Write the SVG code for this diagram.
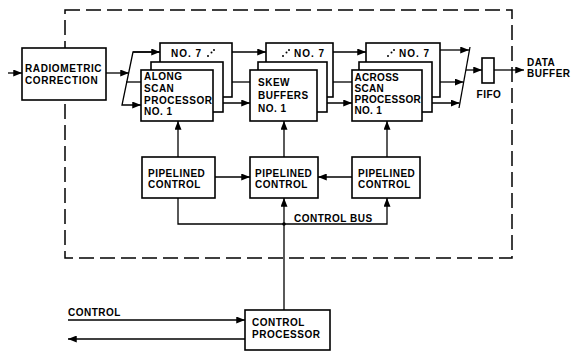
<svg xmlns="http://www.w3.org/2000/svg" width="573" height="352" viewBox="0 0 573 352">
<defs>
<marker id="ah" viewBox="0 0 10 8" refX="10" refY="4" markerWidth="9" markerHeight="7" orient="auto" markerUnits="userSpaceOnUse"><path d="M0,0 L10,4 L0,8 z" fill="#000"/></marker>
<style>
rect{fill:#fff;stroke:#000;stroke-width:1.6}
.ln{fill:none;stroke:#000;stroke-width:1.3}
.dash{fill:none;stroke:#000;stroke-width:1.5;stroke-dasharray:15 6}
text{font-family:"Liberation Sans",Arial,sans-serif;font-weight:bold;font-size:10px;letter-spacing:0.5px;fill:#000}
.n7{letter-spacing:1px}
.dot{fill:#000}
</style>
</defs>
<rect class="dash" x="65" y="10" width="447" height="248" style="fill:none"/>
<g id="connectors">
<path class="ln" d="M8,73 L22,73" marker-end="url(#ah)"/>
<path class="ln" d="M106,73 L129,73" marker-end="url(#ah)"/>
<path class="ln" d="M160,52 L133,52 L122,105 L141,105" marker-end="url(#ah)"/>
<path class="ln" d="M133,52 L160,52" marker-end="url(#ah)"/>
<path class="ln" d="M126,82 L141,82"/>
<path class="ln" d="M232,52 L266,52" marker-end="url(#ah)"/>
<path class="ln" d="M223,82 L250,82"/>
<path class="ln" d="M213,103 L250,103" marker-end="url(#ah)"/>
<path class="ln" d="M333,52 L366,52" marker-end="url(#ah)"/>
<path class="ln" d="M327,82 L352,82"/>
<path class="ln" d="M317,103 L352,103" marker-end="url(#ah)"/>
<path class="ln" d="M440,50 L469,50" marker-end="url(#ah)"/>
<path class="ln" d="M432,82 L463.5,82" marker-end="url(#ah)"/>
<path class="ln" d="M422,103 L459.5,103" marker-end="url(#ah)"/>
<path class="ln" d="M470,47 L459,108"/>
<path class="ln" d="M466,70 L482,70" marker-end="url(#ah)"/>
<path class="ln" d="M494,70 L524,70" marker-end="url(#ah)"/>
<path class="ln" d="M178,157 L178,121" marker-end="url(#ah)"/>
<path class="ln" d="M284,157 L284,121" marker-end="url(#ah)"/>
<path class="ln" d="M387,157 L387,121" marker-end="url(#ah)"/>
<path class="ln" d="M215,177 L250,177" marker-end="url(#ah)"/>
<path class="ln" d="M352,177 L318,177" marker-end="url(#ah)"/>
<path class="ln" d="M178,198 L178,224 L387,224 L387,198" marker-end="url(#ah)"/>
<path class="ln" d="M284,310 L284,198" marker-end="url(#ah)"/>
<circle class="dot" cx="284" cy="224" r="1.8"/>
<path class="ln" d="M68,320 L245,320" marker-end="url(#ah)"/>
<path class="ln" d="M245,339 L68,339" marker-end="url(#ah)"/>
<text x="294" y="222">CONTROL BUS</text>
<text x="68" y="316">CONTROL</text>
<text x="527" y="66">DATA</text>
<text x="527" y="77">BUFFER</text>
</g>
<g id="radiometric">
<rect x="22" y="48" width="84" height="52"/>
<text x="25" y="72" style="letter-spacing:0.6px">RADIOMETRIC</text>
<text x="25" y="84" style="letter-spacing:0.6px">CORRECTION</text>
</g>
<g id="along-scan">
<rect x="160" y="43" width="72" height="54"/>
<text class="n7" x="171" y="57">NO. 7</text>
<circle class="dot" cx="208" cy="56" r="1"/><circle class="dot" cx="211.5" cy="52.5" r="1"/><circle class="dot" cx="214" cy="50" r="1"/>
<rect x="151" y="62" width="72" height="50"/>
<rect x="141" y="70" width="72" height="51"/>
<text x="144" y="80">ALONG</text>
<text x="144" y="92">SCAN</text>
<text x="144" y="103.5">PROCESSOR</text>
<text x="144" y="115">NO. 1</text>
</g>
<g id="skew-buffers">
<rect x="266" y="43" width="67" height="54"/>
<circle class="dot" cx="283" cy="56" r="1"/><circle class="dot" cx="286.5" cy="52.5" r="1"/><circle class="dot" cx="289" cy="50" r="1"/>
<text class="n7" x="294" y="57">NO. 7</text>
<rect x="258" y="62" width="69" height="50"/>
<rect x="250" y="70" width="67" height="51"/>
<text x="258" y="86">SKEW</text>
<text x="258" y="99">BUFFERS</text>
<text x="258" y="112">NO. 1</text>
</g>
<g id="across-scan">
<rect x="366" y="43" width="74" height="54"/>
<circle class="dot" cx="388" cy="56" r="1"/><circle class="dot" cx="391.5" cy="52.5" r="1"/><circle class="dot" cx="394" cy="50" r="1"/>
<text class="n7" x="399" y="57">NO. 7</text>
<rect x="359" y="62" width="73" height="50"/>
<rect x="352" y="70" width="70" height="51"/>
<text x="354.5" y="81" style="letter-spacing:0.3px">ACROSS</text>
<text x="354.5" y="92" style="letter-spacing:0.3px">SCAN</text>
<text x="354.5" y="103" style="letter-spacing:0.3px">PROCESSOR</text>
<text x="354.5" y="114" style="letter-spacing:0.3px">NO. 1</text>
</g>
<g id="fifo">
<rect x="482" y="58" width="12" height="25"/>
<text x="489" y="98" text-anchor="middle">FIFO</text>
</g>
<g id="pipelined-1">
<rect x="142" y="157" width="73" height="41"/>
<text x="148" y="177">PIPELINED</text>
<text x="148" y="188">CONTROL</text>
</g>
<g id="pipelined-2">
<rect x="250" y="157" width="68" height="41"/>
<text x="255" y="177">PIPELINED</text>
<text x="255" y="188">CONTROL</text>
</g>
<g id="pipelined-3">
<rect x="352" y="157" width="68" height="41"/>
<text x="358" y="177">PIPELINED</text>
<text x="358" y="188">CONTROL</text>
</g>
<g id="control-processor">
<rect x="245" y="310" width="85" height="40"/>
<text x="252" y="326">CONTROL</text>
<text x="252" y="337.5">PROCESSOR</text>
</g>
</svg>
